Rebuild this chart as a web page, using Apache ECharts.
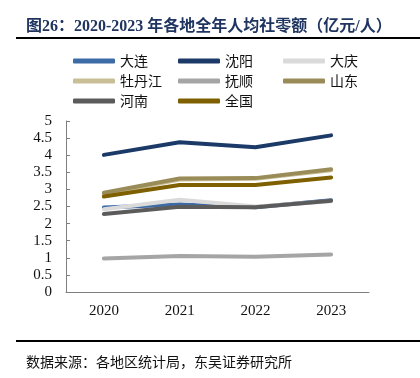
<!DOCTYPE html>
<html><head><meta charset="utf-8">
<script src="https://cdn.jsdelivr.net/npm/echarts@6/dist/echarts.min.js"></script>
<style>html,body{margin:0;padding:0;background:#fff}#c{width:420px;height:378px}</style>
</head><body><div id="c"></div>
<script>
const categories = ['2020', '2021', '2022', '2023'];
const dalian = [2.47, 2.56, 2.48, 2.68];
const shenyang = [4.01, 4.38, 4.23, 4.58];
const daqing = [2.42, 2.70, 2.50, 2.65];
const mudanjiang = [2.86, 3.29, 3.31, 3.56];
const fushun = [0.98, 1.05, 1.03, 1.10];
const shandong = [2.90, 3.32, 3.33, 3.59];
const henan = [2.28, 2.49, 2.48, 2.67];
const quanguo = [2.79, 3.13, 3.13, 3.35];
const yTicks = ['0', '0.5', '1', '1.5', '2', '2.5', '3', '3.5', '4', '4.5', '5'];

const seriesDefs = [
  ['大连', dalian, '#3d6ba8'],
  ['沈阳', shenyang, '#1c3a68'],
  ['大庆', daqing, '#dadada'],
  ['牡丹江', mudanjiang, '#c9bf97'],
  ['抚顺', fushun, '#a5a5a5'],
  ['山东', shandong, '#9a8c58'],
  ['河南', henan, '#5b5b5b'],
  ['全国', quanguo, '#7f6000']
];
const serif = '"Liberation Serif", "Noto Sans CJK SC", serif';
const cjk = '"Noto Sans CJK SC", sans-serif';
const chart = echarts.init(document.getElementById('c'), null, {renderer: 'canvas'});
function legendCol(left, names) {
  return {
    orient: 'vertical', left: left, top: 49, itemWidth: 42, itemHeight: 5, itemGap: 6,
    icon: 'roundRect', data: names,
    textStyle: {fontFamily: cjk, fontSize: 14, color: '#111'}
  };
}
chart.setOption({
  animation: false,
  title: {
    text: '图26：2020-2023 年各地全年人均社零额（亿元/人）',
    left: 21, top: 14,
    textStyle: {fontFamily: serif, fontWeight: 'bold', fontSize: 16, color: '#1f3560'}
  },
  graphic: [
    {type: 'line', shape: {x1: 16, y1: 38, x2: 420, y2: 38}, style: {stroke: '#000', lineWidth: 2}},
    {type: 'line', shape: {x1: 16, y1: 341, x2: 420, y2: 341}, style: {stroke: '#000', lineWidth: 2}},
    {type: 'text', left: 26, top: 355, style: {text: '数据来源：各地区统计局，东吴证券研究所', fontFamily: cjk, fontSize: 14, fill: '#111'}}
  ],
  legend: [
    legendCol(68, ['大连', '牡丹江', '河南']),
    legendCol(173, ['沈阳', '抚顺', '全国']),
    legendCol(278, ['大庆', '山东'])
  ],
  grid: {left: 66, right: 51, top: 121, bottom: 86},
  xAxis: {
    type: 'category', data: categories, boundaryGap: true,
    axisLine: {lineStyle: {color: '#7f7f7f', width: 1}},
    axisTick: {inside: true, length: 5, lineStyle: {color: '#7f7f7f'}},
    axisLabel: {fontFamily: serif, fontSize: 15, color: '#111', margin: 12}
  },
  yAxis: {
    type: 'value', min: 0, max: 5, interval: 0.5,
    axisLine: {show: true, lineStyle: {color: '#7f7f7f', width: 1}},
    axisTick: {show: true, inside: true, length: 4, lineStyle: {color: '#7f7f7f'}},
    splitLine: {show: false},
    axisLabel: {fontFamily: serif, fontSize: 15, color: '#111', margin: 14,
      formatter: function (v) { const s = String(+v.toFixed(1)); return yTicks.indexOf(s) >= 0 ? s : ''; }}
  },
  series: seriesDefs.map(function (d) {
    return {
      name: d[0], type: 'line', data: d[1], symbol: 'none',
      lineStyle: {width: 4, color: d[2], cap: 'round', join: 'round'},
      itemStyle: {color: d[2]}
    };
  })
});
</script></body></html>
